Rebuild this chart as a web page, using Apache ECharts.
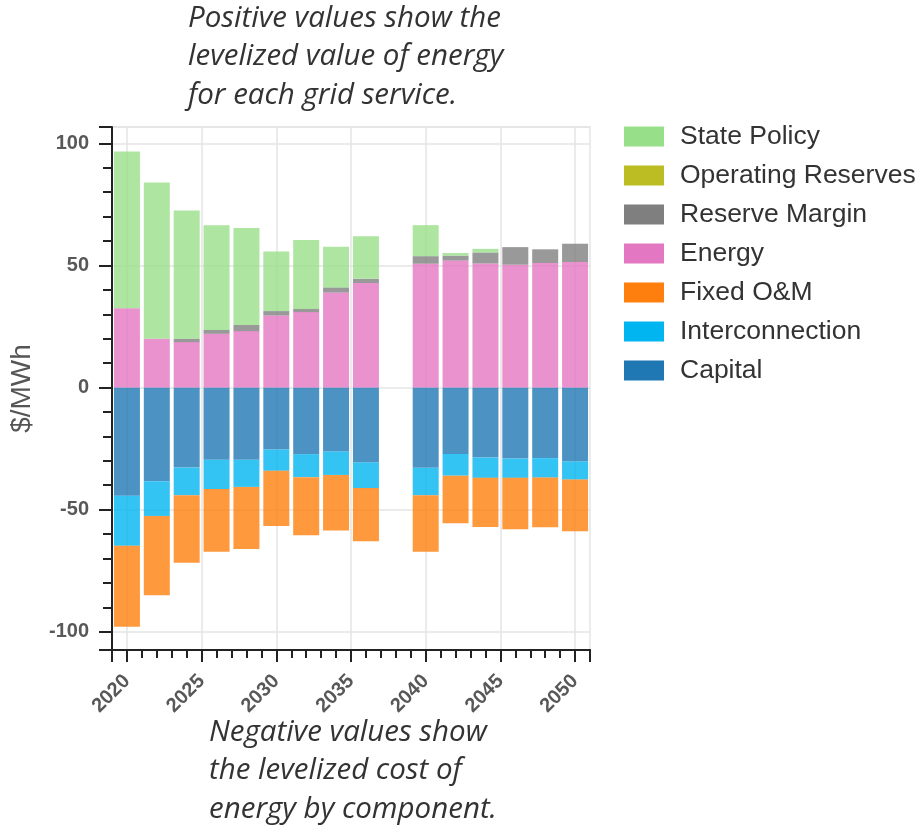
<!DOCTYPE html>
<html>
<head>
<meta charset="utf-8">
<title>Levelized value and cost of energy</title>
<script src="https://cdn.jsdelivr.net/npm/echarts@6/dist/echarts.min.js"></script>
<style>
  html, body { margin: 0; padding: 0; background: #ffffff; }
  #chart { width: 923px; height: 826px; }
</style>
</head>
<body>
<div id="chart"></div>
<script>
// Study years (2038 has no results)
const years = [2020, 2022, 2024, 2026, 2028, 2030, 2032, 2034, 2036, 2040, 2042, 2044, 2046, 2048, 2050];

// Grid-service values, $/MWh (positive)
const energy            = [32.5, 20.0, 18.6, 22.0, 23.1, 29.5, 30.9, 38.9, 42.8, 50.7, 52.0, 50.8, 50.3, 51.0, 51.4];
const operatingReserves = [0, 0, 0, 0, 0, 0, 0, 0, 0, 0, 0, 0, 0, 0, 0];
const reserveMargin     = [0, 0, 1.4, 1.6, 2.5, 1.8, 1.3, 2.1, 1.7, 3.1, 2.0, 4.5, 7.2, 5.6, 7.5];
const statePolicy       = [64.2, 64.0, 52.5, 42.9, 39.7, 24.4, 28.2, 16.7, 17.5, 12.7, 1.1, 1.5, 0, 0, 0];

// Cost components, $/MWh (negative)
const capital         = [-44.3, -38.4, -32.8, -29.6, -29.6, -25.4, -27.3, -26.2, -30.7, -32.9, -27.2, -28.7, -29.1, -28.9, -30.3];
const interconnection = [-20.5, -14.2, -11.3, -12.0, -11.1, -8.7, -9.4, -9.6, -10.5, -11.2, -8.9, -8.3, -7.9, -8.0, -7.4];
const fixedOM         = [-33.2, -32.5, -27.7, -25.7, -25.4, -22.6, -23.8, -22.8, -21.8, -23.2, -19.5, -20.1, -21.0, -20.3, -21.2];

// Year axis runs one year either side of the study period
const axisYears = [];
for (let y = 2019; y <= 2051; y++) axisYears.push(String(y));

// Draw order: costs stack downward from zero, services stack upward
const seriesDefs = [
  { name: 'Capital',            values: capital,           color: '#1f77b4' },
  { name: 'Interconnection',    values: interconnection,   color: '#00b5f0' },
  { name: 'Fixed O&M',          values: fixedOM,           color: '#ff7f0e' },
  { name: 'Energy',             values: energy,            color: '#e377c2' },
  { name: 'Operating Reserves', values: operatingReserves, color: '#bcbd22' },
  { name: 'Reserve Margin',     values: reserveMargin,     color: '#7f7f7f' },
  { name: 'State Policy',       values: statePolicy,       color: '#98df8a' }
];
const legendOrder = ['State Policy', 'Operating Reserves', 'Reserve Margin', 'Energy', 'Fixed O&M', 'Interconnection', 'Capital'];

const chart = echarts.init(document.getElementById('chart'), null, { renderer: 'canvas' });

const sansFamily = '"Liberation Sans", Arial, sans-serif';
const labelFont = { color: '#585858', fontSize: 20, fontWeight: 'bold', fontFamily: sansFamily };
const noteFont = 'italic 29.5px "Open Sans", sans-serif';
const axisInk = { color: '#222', width: 2 };
const gridInk = { color: '#e5e5e5', width: 1.5 };

const lastIdx = axisYears.length - 1;
const isMajorYear = (idx, val) => Number(val) % 5 === 0 || idx === 0 || idx === lastIdx;
const isLabelYear = (idx, val) => Number(val) % 5 === 0;

chart.setOption({
  animation: false,
  backgroundColor: '#ffffff',
  grid: {
    left: 111, right: 333, top: 127, bottom: 176,
    show: true, borderColor: '#e5e5e5', borderWidth: 1.5
  },
  legend: {
    orient: 'vertical',
    left: 619, top: 118,
    icon: 'rect',
    itemWidth: 40, itemHeight: 20, itemGap: 12,
    selectedMode: false,
    textStyle: { color: '#333', fontSize: 26.5, fontFamily: sansFamily, padding: [0, 0, 0, 11] },
    data: legendOrder.map(n => ({ name: n, itemStyle: { opacity: 1 } }))
  },
  xAxis: [
    {
      // yearly minor ticks
      type: 'category', data: axisYears, boundaryGap: false, position: 'bottom',
      axisLine: { onZero: false, lineStyle: axisInk },
      axisTick: { show: true, interval: 0, length: 8, lineStyle: axisInk },
      axisLabel: { show: false },
      splitLine: { show: false }
    },
    {
      // five-year major ticks, labels and grid lines
      type: 'category', data: axisYears, boundaryGap: false, position: 'bottom',
      axisLine: { onZero: false, lineStyle: axisInk },
      axisTick: { show: true, interval: isMajorYear, length: 12, lineStyle: axisInk },
      axisLabel: Object.assign({ interval: isLabelYear, rotate: 45, margin: 28 }, labelFont),
      splitLine: { show: true, interval: isLabelYear, lineStyle: gridInk }
    }
  ],
  yAxis: {
    type: 'value',
    min: -107.5, max: 106.7,
    splitNumber: 5,
    name: '$/MWh',
    nameLocation: 'middle',
    nameGap: 76,
    nameTextStyle: { color: '#555', fontSize: 28, fontFamily: sansFamily },
    axisLine: { show: true, lineStyle: axisInk },
    axisTick: { show: true, length: 13, lineStyle: axisInk },
    minorTick: { show: true, splitNumber: 5, length: 9, lineStyle: axisInk },
    splitLine: { show: true, lineStyle: gridInk },
    axisLabel: Object.assign({ margin: 23, showMinLabel: false, showMaxLabel: false }, labelFont)
  },
  series: seriesDefs.map(d => ({
    name: d.name,
    type: 'bar',
    xAxisIndex: 0,
    stack: 'total',
    barWidth: 26,
    itemStyle: { color: d.color, opacity: 0.8 },
    emphasis: { disabled: true },
    data: years.map((y, i) => [String(y), d.values[i]])
  })),
  graphic: [
    {
      type: 'text', left: 188, top: -1,
      style: {
        text: 'Positive values show the\nlevelized value of energy\nfor each grid service.',
        font: noteFont, lineHeight: 38.5, fill: '#333'
      }
    },
    {
      type: 'text', left: 209, top: 713,
      style: {
        text: 'Negative values show\nthe levelized cost of\nenergy by component.',
        font: noteFont, lineHeight: 38.5, fill: '#333'
      }
    }
  ]
});
</script>
</body>
</html>
